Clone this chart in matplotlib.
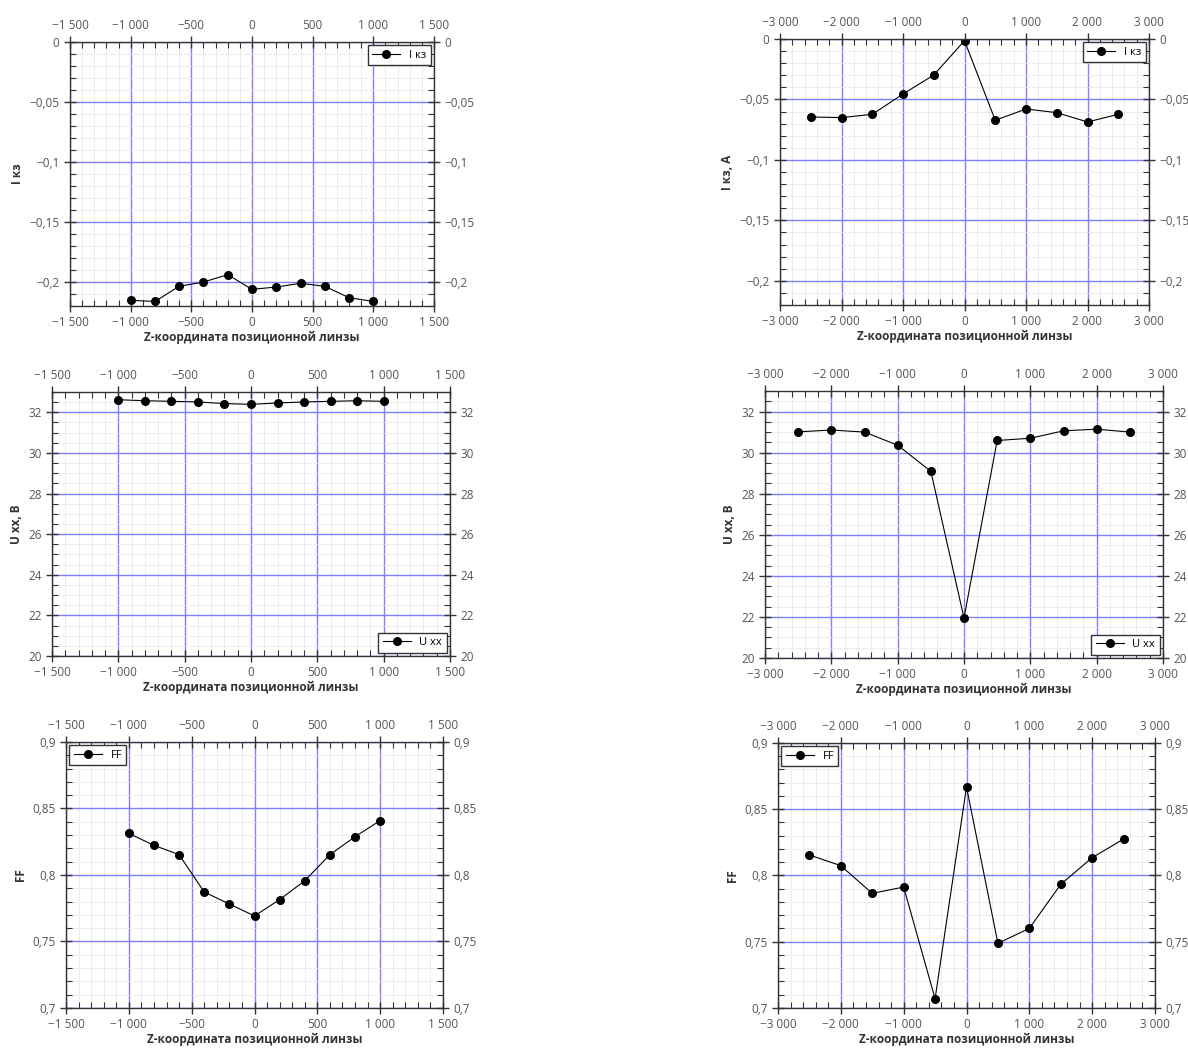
import matplotlib
matplotlib.use("Agg")
import matplotlib.pyplot as plt
from matplotlib.ticker import MultipleLocator, AutoMinorLocator, FuncFormatter

plt.rcParams["font.family"] = ["Open Sans", "DejaVu Sans"]

# left column: step 200 around the lens, right column: step 500
z_small = [-1000, -800, -600, -400, -200, 0, 200, 400, 600, 800, 1000]
z_big = [-2500, -2000, -1500, -1000, -500, 0, 500, 1000, 1500, 2000, 2500]

isc_small = [-0.2153, -0.2162, -0.2036, -0.2000, -0.1939, -0.2061,
             -0.2042, -0.2011, -0.2036, -0.2131, -0.2162]
isc_big = [-0.0645, -0.0650, -0.0623, -0.0455, -0.0298, -0.0014,
           -0.0672, -0.0579, -0.0609, -0.0686, -0.0623]

uoc_small = [32.62, 32.57, 32.54, 32.51, 32.43, 32.39,
             32.46, 32.51, 32.54, 32.57, 32.54]
uoc_big = [31.01, 31.10, 31.00, 30.36, 29.09, 21.95,
           30.59, 30.70, 31.06, 31.14, 31.00]

ff_small = [0.8313, 0.8223, 0.8153, 0.7872, 0.7782, 0.7692,
            0.7815, 0.7957, 0.8153, 0.8288, 0.8409]
ff_big = [0.8155, 0.8074, 0.7865, 0.7913, 0.7070, 0.8668,
          0.7488, 0.7601, 0.7933, 0.8135, 0.8275]

xlabel = "Z-координата позиционной линзы"

W, H = 1188, 1051


def px_box(l, r, t, b):
    return [l / W, 1 - b / H, (r - l) / W, (b - t) / H]


def fmt_x(v, pos):
    s = f"{abs(int(round(v))):,}".replace(",", " ")
    return ("\u2212" if v < 0 else "") + s


def fmt_y(v, pos):
    s = f"{abs(v):.4f}".rstrip("0").rstrip(".")
    if s == "":
        s = "0"
    s = s.replace(".", ",")
    return ("\u2212" if v < -1e-12 else "") + s


def panel(fig, box, x, y, xlim, xmaj, xsub, ylim, ymaj, ysub,
          ylabel, leg, legloc):
    ax = fig.add_axes(box)
    ax.plot(x, y, "-o", color="black", lw=0.8, ms=5.5, label=leg)
    ax.set_xlim(*xlim)
    ax.set_ylim(*ylim)
    ax.xaxis.set_major_locator(MultipleLocator(xmaj))
    ax.xaxis.set_minor_locator(AutoMinorLocator(xsub))
    ax.yaxis.set_major_locator(MultipleLocator(ymaj))
    ax.yaxis.set_minor_locator(AutoMinorLocator(ysub))
    ax.xaxis.set_major_formatter(FuncFormatter(fmt_x))
    ax.yaxis.set_major_formatter(FuncFormatter(fmt_y))
    ax.grid(True, which="minor", color="#e4e4e4", lw=0.5)
    ax.grid(True, which="major", color="#7f7fff", lw=1.0, snap=True)
    ax.set_axisbelow(True)
    ax.tick_params(which="both", top=True, right=True, labeltop=True,
                   labelright=True, labelsize=8.5, colors="#333333",
                   labelcolor="#555555")
    ax.tick_params(which="major", direction="inout", length=8, width=1)
    ax.tick_params(which="minor", direction="in", length=4, width=0.8)
    for s in ax.spines.values():
        s.set_color("#333333")
        s.set_linewidth(1.0)
    ax.set_ylabel(ylabel, fontsize=8.5, fontweight="bold", color="#333333")
    ax.set_xlabel(xlabel, fontsize=8.5, fontweight="bold",
                  color="#333333", labelpad=1)
    lg = ax.legend(loc=legloc, fancybox=False, edgecolor="#333333",
                   fontsize=8, borderaxespad=0.3, handlelength=2.5,
                   framealpha=1)
    lg.get_frame().set_linewidth(1.0)
    return ax


fig = plt.figure(figsize=(W / 100, H / 100), dpi=100)

panel(fig, px_box(70, 434, 42, 306), z_small, isc_small, (-1500, 1500), 500, 5,
      (-0.22, 0), 0.05, 5, "I кз", "I кз", "upper right")
panel(fig, px_box(780, 1149, 39, 305), z_big, isc_big, (-3000, 3000), 1000, 5,
      (-0.22, 0), 0.05, 5, "I кз, A", "I кз", "upper right")

panel(fig, px_box(52, 450, 392, 656), z_small, uoc_small, (-1500, 1500), 500, 5,
      (20, 33), 2, 4, "U xx, B", "U xx", "lower right")
panel(fig, px_box(765, 1163, 391, 658), z_big, uoc_big, (-3000, 3000), 1000, 5,
      (20, 33), 2, 4, "U xx, B", "U xx", "lower right")

panel(fig, px_box(66, 443, 742, 1008), z_small, ff_small, (-1500, 1500), 500, 5,
      (0.7, 0.9), 0.05, 5, "FF", "FF", "upper left")
panel(fig, px_box(778, 1155, 743, 1008), z_big, ff_big, (-3000, 3000), 1000, 5,
      (0.7, 0.9), 0.05, 5, "FF", "FF", "upper left")

fig.savefig("out.png", dpi=100, facecolor="white")
